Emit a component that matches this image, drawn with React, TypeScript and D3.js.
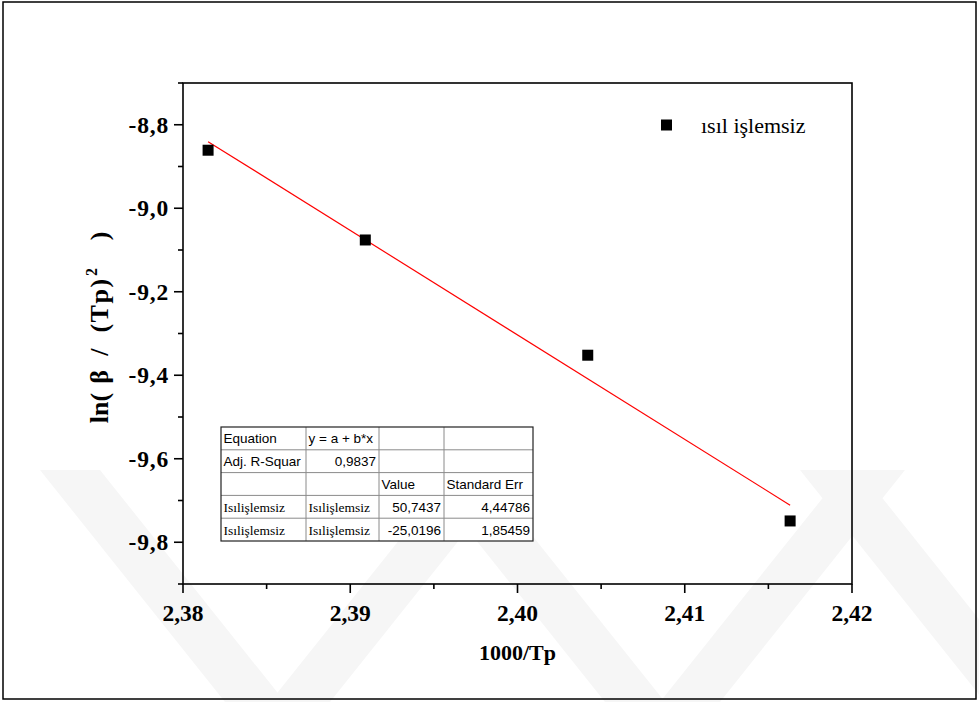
import React from "react";
import * as d3 from "d3";

const xValues = [2.3815, 2.3909, 2.4042, 2.4163];
const yValues = [-8.861, -9.076, -9.352, -9.749];
const fitIntercept = 50.7437;
const fitSlope = -25.0196;
const xMajorTicks = [2.38, 2.39, 2.4, 2.41, 2.42];
const xMinorTicks = [2.385, 2.395, 2.405, 2.415];
const yMajorTicks = [-8.8, -9.0, -9.2, -9.4, -9.6, -9.8];
const yMinorTicks = [-8.7, -8.9, -9.1, -9.3, -9.5, -9.7, -9.9];
const legendLabel = "ısıl işlemsiz";
const yTitleParts = ["ln(", "β", "/", "(Tp)", "2", ")"];
const tableRows = [
  ["Equation", "y = a + b*x", "", ""],
  ["Adj. R-Squar", "0,9837", "", ""],
  ["", "", "Value", "Standard Err"],
  ["Isılişlemsiz", "Isılişlemsiz", "50,7437", "4,44786"],
  ["Isılişlemsiz", "Isılişlemsiz", "-25,0196", "1,85459"],
];

const W = 979;
const H = 702;
const left = 183;
const right = 852;
const top = 83;
const bottom = 584;

const serif = "'Liberation Serif', 'Times New Roman', serif";
const sans = "'Liberation Sans', Arial, sans-serif";

const fmt = (v: number, d: number) => v.toFixed(d).replace(".", ",");

export default function App() {
  const x = d3.scaleLinear().domain([2.38, 2.42]).range([left, right]);
  const y = d3.scaleLinear().domain([-8.7, -9.9]).range([top, bottom]);

  const x0 = xValues[0];
  const x1 = xValues[xValues.length - 1];
  const fitLine = d3
    .line<number>()
    .x((d) => x(d))
    .y((d) => y(fitIntercept + fitSlope * d))([x0, x1]);

  // table geometry
  const tL = 221, tT = 427, tR = 533, tB = 541;
  const colX = [tL, 306, 379, 444, tR];
  const rowH = (tB - tT) / tableRows.length;
  const rowY = tableRows.map((_, i) => tT + i * rowH);
  const align = [
    ["l", "l", "l", "l"],
    ["l", "r", "l", "l"],
    ["l", "l", "l", "l"],
    ["l", "l", "r", "r"],
    ["l", "l", "r", "r"],
  ];

  // watermark bands (parallelograms)
  const bandW = 60;
  const yTopW = 470;
  const yBotW = 702;
  const dxW = 185;
  const bands = [
    { x: 40, dir: 1 },
    { x: 270, dir: -1 },
    { x: 420, dir: 1 },
    { x: 660, dir: -1 },
    { x: 800, dir: 1 },
  ];

  const tickFont = 23.5;
  // centres of y-title pieces along the rotated axis (page y)
  const yTitleCentres = [408, 377, 352, 305, 272, 236];

  return (
    <svg
      width={W}
      height={H}
      style={{ position: "absolute", left: 0, top: 0, background: "#fff" }}
    >
      <rect x={0} y={0} width={W} height={H} fill="#fff" />
      {bands.map((b, i) => {
        const pts =
          b.dir === 1
            ? [
                [b.x, yTopW],
                [b.x + bandW, yTopW],
                [b.x + bandW + dxW, yBotW],
                [b.x + dxW, yBotW],
              ]
            : [
                [b.x, yBotW],
                [b.x + bandW, yBotW],
                [b.x + bandW + dxW, yTopW],
                [b.x + dxW, yTopW],
              ];
        return (
          <polygon
            key={i}
            points={pts.map((p) => p.join(",")).join(" ")}
            fill="#f6f6f6"
          />
        );
      })}
      <rect
        x={3}
        y={2}
        width={973}
        height={697}
        fill="none"
        stroke="#000"
        strokeWidth={1.5}
      />

      {/* axes frame */}
      <rect
        x={left}
        y={top}
        width={right - left}
        height={bottom - top}
        fill="none"
        stroke="#000"
        strokeWidth={1.6}
      />

      {/* x ticks */}
      {xMajorTicks.map((t) => (
        <g key={"xM" + t}>
          <line x1={x(t)} x2={x(t)} y1={bottom} y2={bottom + 9} stroke="#000" strokeWidth={1.6} />
          <text
            x={x(t)}
            y={bottom + 37}
            textAnchor="middle"
            fontFamily={serif}
            fontWeight="bold"
            fontSize={tickFont}
          >
            {fmt(t, 2)}
          </text>
        </g>
      ))}
      {xMinorTicks.map((t) => (
        <line key={"xm" + t} x1={x(t)} x2={x(t)} y1={bottom} y2={bottom + 5} stroke="#000" strokeWidth={1.6} />
      ))}

      {/* y ticks */}
      {yMajorTicks.map((t) => (
        <g key={"yM" + t}>
          <line x1={left - 9} x2={left} y1={y(t)} y2={y(t)} stroke="#000" strokeWidth={1.6} />
          <text
            x={left - 14}
            y={y(t) + 8}
            textAnchor="end"
            fontFamily={serif}
            fontWeight="bold"
            fontSize={tickFont}
            letterSpacing={0.8}
          >
            {fmt(t, 1)}
          </text>
        </g>
      ))}
      {yMinorTicks.map((t) => (
        <line key={"ym" + t} x1={left - 5} x2={left} y1={y(t)} y2={y(t)} stroke="#000" strokeWidth={1.6} />
      ))}

      {/* axis titles */}
      <text
        x={(left + right) / 2}
        y={660}
        textAnchor="middle"
        fontFamily={serif}
        fontWeight="bold"
        fontSize={22}
      >
        1000/Tp
      </text>
      <g transform="translate(108, 425) rotate(-90)">
        {yTitleParts.map((p, i) => {
          const sup = i === 4;
          return (
            <text
              key={"yt" + i}
              x={425 - yTitleCentres[i]}
              y={sup ? -11 : 0}
              textAnchor="middle"
              fontFamily={serif}
              fontWeight="bold"
              fontSize={sup ? 16 : 26}
              letterSpacing={i === 3 ? 1.5 : 0}
            >
              {p}
            </text>
          );
        })}
      </g>

      {/* fit line */}
      <path d={fitLine || ""} fill="none" stroke="#ff0000" strokeWidth={1.2} />

      {/* points */}
      {xValues.map((v, i) => (
        <rect
          key={"p" + i}
          x={x(v) - 5.5}
          y={y(yValues[i]) - 5.5}
          width={11}
          height={11}
          fill="#000"
        />
      ))}

      {/* legend */}
      <rect x={661} y={119.5} width={11} height={11} fill="#000" />
      <text x={701} y={133} fontFamily={serif} fontSize={22}>
        {legendLabel}
      </text>

      {/* table */}
      <g>
        <rect x={tL} y={tT} width={tR - tL} height={tB - tT} fill="#fff" />
        {rowY.slice(1).map((ry, i) => (
          <line key={"tr" + i} x1={tL} x2={tR} y1={ry} y2={ry} stroke="#8a8a8a" strokeWidth={1} />
        ))}
        {colX.slice(1, -1).map((cx, i) => (
          <line key={"tc" + i} x1={cx} x2={cx} y1={tT} y2={tB} stroke="#8a8a8a" strokeWidth={1} />
        ))}
        <rect x={tL} y={tT} width={tR - tL} height={tB - tT} fill="none" stroke="#222" strokeWidth={1.2} />
        {tableRows.map((row, ri) =>
          row.map((cell, ci) => {
            if (!cell) return null;
            const isSerif = cell.startsWith("Is");
            const a = align[ri][ci];
            const tx = a === "l" ? colX[ci] + 2.5 : colX[ci + 1] - 3;
            return (
              <text
                key={ri + "-" + ci}
                x={tx}
                y={rowY[ri] + rowH / 2 + 5}
                textAnchor={a === "l" ? "start" : "end"}
                fontFamily={isSerif ? serif : sans}
                fontSize={13.5}
              >
                {cell}
              </text>
            );
          })
        )}
      </g>
    </svg>
  );
}
